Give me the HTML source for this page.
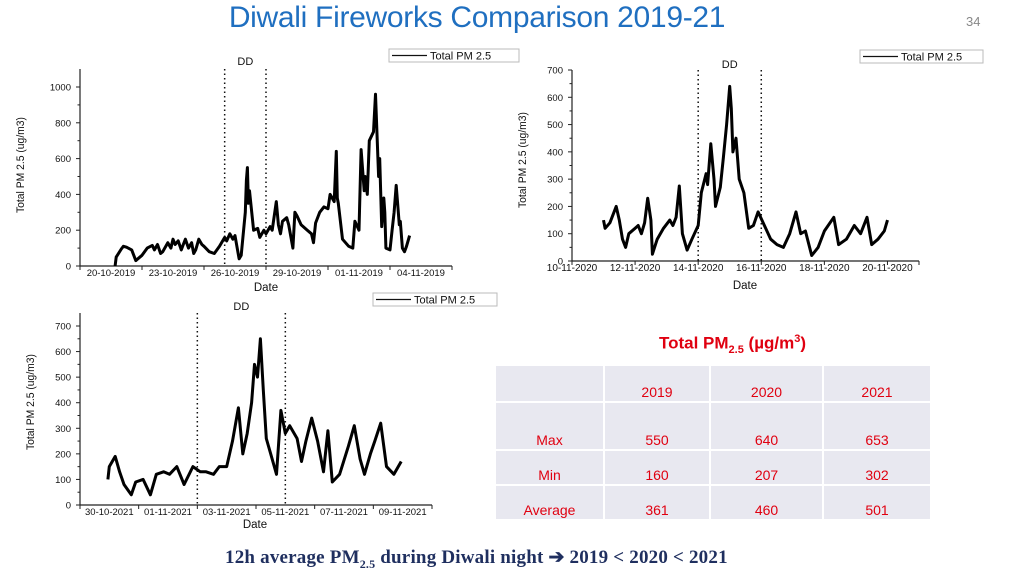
<!DOCTYPE html>
<html><head><meta charset="utf-8"><style>
body{margin:0;width:1024px;height:576px;background:#fff;position:relative;overflow:hidden;font-family:"Liberation Sans",sans-serif}
#title{position:absolute;left:0;width:954px;top:1px;text-align:center;font-size:30px;color:#1f6fc0;letter-spacing:-0.3px}
#pg{position:absolute;left:966px;top:14px;font-size:13px;color:#888}
#tt{position:absolute;left:600px;width:265px;top:333px;text-align:center;font-weight:bold;color:#e00010;font-size:17px}
table{position:absolute;left:494px;top:364px;border-collapse:collapse}
td{background:#e8e8f0;border:2px solid #fff;color:#e00010;font-size:14px;text-align:center;padding:0;vertical-align:bottom}
#foot{position:absolute;left:225px;top:546px;font-family:"Liberation Serif",serif;font-weight:bold;font-size:19px;color:#1f2f5f;letter-spacing:0.2px}
</style></head><body>
<div id="title">Diwali Fireworks Comparison 2019-21</div>
<div id="pg">34</div>
<svg id="svg" width="1024" height="576" style="position:absolute;left:0;top:0"></svg>
<div id="tt">Total PM<sub style="font-size:11px">2.5</sub> (µg/m<sup style="font-size:11px">3</sup>)</div>
<table>
<tr style="height:37px"><td style="width:107px"></td><td style="width:104px;padding-bottom:1px">2019</td><td style="width:111px;padding-bottom:1px">2020</td><td style="width:106px;padding-bottom:1px">2021</td></tr>
<tr style="height:48px"><td style="padding-bottom:1px">Max</td><td style="padding-bottom:1px">550</td><td style="padding-bottom:1px">640</td><td style="padding-bottom:1px">653</td></tr>
<tr style="height:35px"><td style="padding-bottom:1px">Min</td><td style="padding-bottom:1px">160</td><td style="padding-bottom:1px">207</td><td style="padding-bottom:1px">302</td></tr>
<tr style="height:35px"><td style="padding-bottom:1px">Average</td><td style="padding-bottom:1px">361</td><td style="padding-bottom:1px">460</td><td style="padding-bottom:1px">501</td></tr>
</table>
<div id="foot">12h average PM<sub style="font-size:12px">2.5</sub> during Diwali night ➔ 2019 &lt; 2020 &lt; 2021</div>
<script>
// ---- chart 2019 ----
const days2019 = [1.7,1.75,2.0,2.1,2.25,2.5,2.7,2.75,3.0,3.25,3.5,3.6,3.75,3.9,4.0,4.25,4.4,4.5,4.6,4.75,4.9,5.0,5.1,5.25,5.4,5.5,5.6,5.75,5.9,6.0,6.25,6.5,6.75,7.0,7.1,7.25,7.4,7.5,7.7,7.8,8.0,8.05,8.1,8.15,8.2,8.4,8.6,8.7,8.9,9.0,9.2,9.3,9.5,9.6,9.7,9.8,10.0,10.1,10.3,10.4,10.5,10.7,11.0,11.2,11.3,11.4,11.6,11.8,12.0,12.1,12.3,12.4,12.45,12.5,12.7,13.0,13.2,13.3,13.5,13.6,13.75,13.8,13.9,14.0,14.2,14.3,14.45,14.5,14.6,14.7,14.75,14.8,15.0,15.1,15.2,15.3,15.45,15.5,15.6,15.7,15.8,15.95];
const vals2019 = [0,50,95,110,105,90,30,35,60,100,115,90,120,70,80,130,100,150,120,140,90,120,150,100,130,70,90,150,120,110,80,70,110,160,140,180,150,170,40,60,300,480,550,350,420,200,210,160,200,180,220,200,360,230,180,250,270,230,100,300,280,230,200,180,130,240,300,330,320,400,360,640,380,350,150,110,100,250,200,650,420,500,400,700,750,960,500,600,220,380,300,100,90,200,300,450,230,250,100,80,110,170];
const ticks2019 = [0,3,6,9,12,15,18];
const labels2019 = ["20-10-2019","23-10-2019","26-10-2019","29-10-2019","01-11-2019","04-11-2019"];
const yticks2019 = [0,200,400,600,800,1000];
const dd2019 = [7,9];
// ---- chart 2020 ----
const days2020 = [1.0,1.05,1.2,1.4,1.5,1.6,1.7,1.8,2.0,2.1,2.2,2.3,2.4,2.5,2.55,2.7,2.9,3.1,3.2,3.3,3.4,3.5,3.65,3.8,4.0,4.1,4.25,4.3,4.4,4.5,4.55,4.7,4.8,4.9,5.0,5.05,5.1,5.2,5.3,5.45,5.6,5.75,5.9,6.1,6.3,6.5,6.7,6.9,7.1,7.25,7.4,7.6,7.8,8.0,8.3,8.45,8.7,8.95,9.15,9.35,9.5,9.7,9.9,10.0];
const vals2020 = [150,120,140,200,150,80,50,100,120,130,100,140,230,150,25,80,120,150,130,160,275,100,40,80,130,250,320,280,430,300,200,270,380,500,640,560,400,450,300,250,120,130,180,130,80,60,50,100,180,100,110,20,50,110,160,60,80,130,100,160,60,80,110,150];
const ticks2020 = [0,2,4,6,8,10,11];
const labels2020 = ["10-11-2020","12-11-2020","14-11-2020","16-11-2020","18-11-2020","20-11-2020"];
const yticks2020 = [0,100,200,300,400,500,600,700];
const dd2020 = [4,6];
// ---- chart 2021 ----
const days2021 = [0.95,1.0,1.2,1.35,1.5,1.75,1.9,2.15,2.4,2.6,2.85,3.05,3.3,3.55,3.85,4.1,4.3,4.55,4.75,5.0,5.2,5.4,5.55,5.7,5.85,5.95,6.05,6.15,6.25,6.35,6.5,6.7,6.85,7.0,7.15,7.4,7.55,7.7,7.9,8.1,8.3,8.45,8.6,8.85,9.15,9.35,9.55,9.7,9.9,10.05,10.25,10.45,10.7,10.95];
const vals2021 = [100,150,190,130,80,40,90,100,40,120,130,120,150,80,150,130,130,120,150,150,250,380,200,280,400,550,500,650,450,260,200,120,370,280,310,260,170,250,340,250,130,290,90,120,230,310,180,120,200,250,320,150,120,170];
const ticks2021 = [0,2,4,6,8,10,12];
const labels2021 = ["30-10-2021","01-11-2021","03-11-2021","05-11-2021","07-11-2021","09-11-2021"];
const yticks2021 = [0,100,200,300,400,500,600,700];
const dd2021 = [4,7];

const svg=document.getElementById('svg');
const NS='http://www.w3.org/2000/svg';
function mk(t,a,parent){const e=document.createElementNS(NS,t);for(const k in a)e.setAttribute(k,a[k]);(parent||svg).appendChild(e);return e;}
function txt(x,y,s,size,anchor,parent,rot){const e=mk('text',{x:x,y:y,'font-size':size,'text-anchor':anchor||'middle',fill:'#111','font-family':'Liberation Sans, sans-serif'},parent);if(rot)e.setAttribute('transform','rotate(-90 '+x+' '+y+')');e.textContent=s;return e;}

function chart(id,c,days,vals,ticks,labels,yticks,dd){
  const g=mk('g',{});
  
  
  const xs=d=>c.x0+(d-c.d0)/(c.d1-c.d0)*(c.x1-c.x0);
  const ys=v=>c.y0-(v-0)/(c.ymax)*(c.y0-c.yTopVal);
  const ax=mk('path',{d:`M${c.x0} ${c.yTop}V${c.y0}H${c.x1}`,stroke:'#222','stroke-width':1.2,fill:'none'},g);
  
  
  yticks.forEach((v,i)=>{
    const y=ys(v);
    mk('line',{x1:c.x0-4,x2:c.x0,y1:y,y2:y,stroke:'#222'},g);
    const t=txt(c.x0-9,y+3.5,String(v),9.5,'end',g);
    
    
    if(i<yticks.length-1){const ym=ys((v+yticks[i+1])/2);mk('line',{x1:c.x0-2.5,x2:c.x0,y1:ym,y2:ym,stroke:'#222'},g);}
  });
  ticks.forEach(d=>{const x=xs(d);mk('line',{x1:x,x2:x,y1:c.y0,y2:c.y0+4,stroke:'#222'},g);});
  labels.forEach((s,i)=>{
    const t=txt(xs(ticks[i]+c.labOff),c.y0+10,s,c.labSize,'middle',g);
    
    
  });
  dd.forEach(d=>{const x=xs(d);const l=mk('line',{x1:x,x2:x,y1:c.yTop,y2:c.y0,stroke:'#111','stroke-width':1.5,'stroke-dasharray':'1.5,3'},g);
    
    });
  const ddl=txt((xs(dd[0])+xs(dd[1]))/2,c.ddY,'DD',11,'middle',g);
  
  
  const p=mk('path',{d:days.map((d,i)=>(i?'L':'M')+xs(d).toFixed(1)+' '+ys(vals[i]).toFixed(1)).join(''),stroke:'#000','stroke-width':3,fill:'none','stroke-linejoin':'round'},g);
  
  
  const yt=txt(c.ytX,c.ytY,'Total PM 2.5 (ug/m3)',11,'middle',g,true);
  
  
  yt.setAttribute('textLength','96');yt.setAttribute('lengthAdjust','spacingAndGlyphs');
  const xt=txt(c.dateX,c.dateY,'Date',11.5,'middle',g);
  
  
  const lg=mk('g',{},g);
  
  
  mk('rect',{x:c.lx,y:c.ly,width:c.lw,height:13,fill:'#fff',stroke:'#bbb','stroke-width':1},lg);
  mk('line',{x1:c.lx+3,x2:c.lx+38,y1:c.ly+6.5,y2:c.ly+6.5,stroke:'#111','stroke-width':1.2},lg);
  txt(c.lx+41,c.ly+10.5,'Total PM 2.5',11,'start',lg);
}
chart('chart-2019',{x0:80,x1:452,d0:0,d1:18,y0:266,yTop:69,yTopVal:87,ymax:1000,labOff:1.5,labSize:9.5,ddY:65,ytX:24,ytY:165,dateX:266,dateY:291,lx:389,ly:49,lw:130},days2019,vals2019,ticks2019,labels2019,yticks2019,dd2019);
chart('chart-2020',{x0:572,x1:919,d0:0,d1:11,y0:261,yTop:70,yTopVal:70,ymax:700,labOff:0,labSize:10,ddY:68,ytX:526,ytY:160,dateX:745,dateY:289,lx:860,ly:50,lw:123},days2020,vals2020,ticks2020,labels2020,yticks2020,dd2020);
chart('chart-2021',{x0:80,x1:432,d0:0,d1:12,y0:505,yTop:313,yTopVal:326,ymax:700,labOff:1,labSize:9.5,ddY:310,ytX:34,ytY:402,dateX:255,dateY:528,lx:373,ly:293,lw:124},days2021,vals2021,ticks2021,labels2021,yticks2021,dd2021);
</script>
</body></html>
